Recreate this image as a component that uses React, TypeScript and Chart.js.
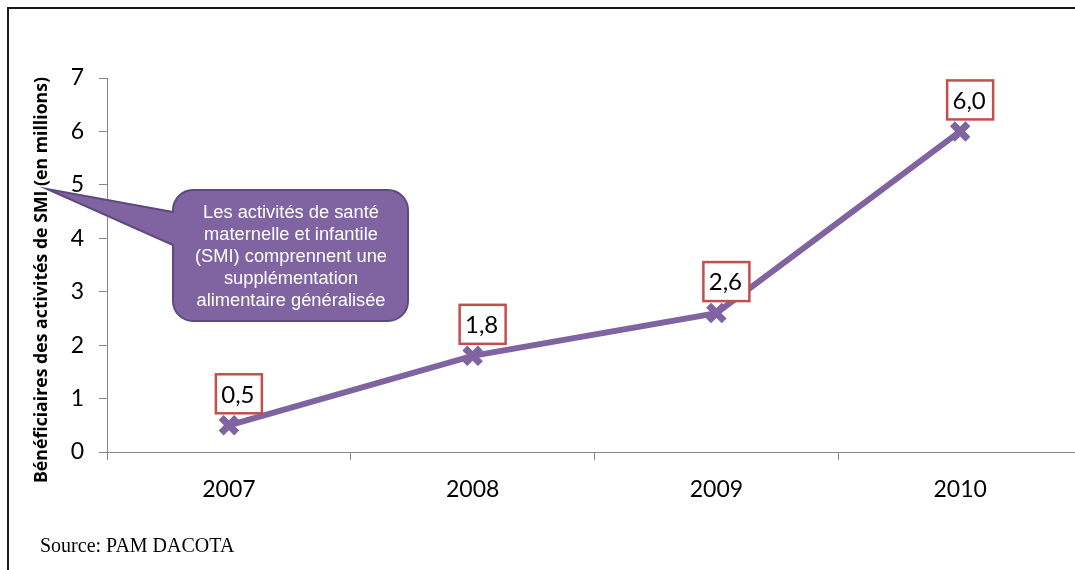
import React, { useEffect, useRef } from "react";
import { Chart, registerables } from "chart.js";

Chart.register(...registerables);

const years = ["2007", "2008", "2009", "2010"];
const beneficiaries = [0.5, 1.8, 2.6, 6.0];
const valueLabels = ["0,5", "1,8", "2,6", "6,0"];
const yTicks = [0, 1, 2, 3, 4, 5, 6, 7];
const yTitle = "Bénéficiaires des activités de SMI (en millions)";
const calloutLines = [
  "Les activités de santé",
  "maternelle et infantile",
  "(SMI) comprennent une",
  "supplémentation",
  "alimentaire généralisée",
];
const sourceText = "Source: PAM DACOTA";

const PURPLE = "#8064A2";
const RED = "#C0504D";
const AXIS = "#868686";

const decorPlugin = {
  id: "decor",
  afterDraw(chart: any) {
    const ctx = chart.ctx as CanvasRenderingContext2D;
    ctx.save();
    // frame
    ctx.fillStyle = "#1a1a1a";
    ctx.fillRect(7, 7, 1200, 2);
    ctx.fillRect(7, 7, 2, 700);

    // y title
    ctx.save();
    ctx.translate(42, 280);
    ctx.rotate(-Math.PI / 2);
    ctx.fillStyle = "#000";
    ctx.font = "bold 17.7px 'Open Sans', Lato, sans-serif";
    ctx.textAlign = "center";
    ctx.textBaseline = "middle";
    ctx.fillText(yTitle, 0, 0);
    ctx.restore();

    // data labels
    const meta = chart.getDatasetMeta(0);
    meta.data.forEach((pt: any, i: number) => {
      const cx = pt.x + 10;
      const bottom = pt.y - 12;
      const w = 46;
      const h = 39;
      ctx.fillStyle = "#fff";
      ctx.fillRect(cx - w / 2, bottom - h, w, h);
      ctx.strokeStyle = RED;
      ctx.lineWidth = 2.5;
      ctx.strokeRect(cx - w / 2, bottom - h, w, h);
      ctx.fillStyle = "#000";
      ctx.font = "24px Lato, 'Open Sans', sans-serif";
      ctx.textAlign = "center";
      ctx.textBaseline = "middle";
      ctx.fillText(valueLabels[i], cx - 1, bottom - h / 2 + 1);
    });

    // callout
    const x0 = 173, y0 = 190, x1 = 408, y1 = 321, r = 20;
    ctx.beginPath();
    ctx.moveTo(x0 + r, y0);
    ctx.lineTo(x1 - r, y0);
    ctx.arcTo(x1, y0, x1, y0 + r, r);
    ctx.lineTo(x1, y1 - r);
    ctx.arcTo(x1, y1, x1 - r, y1, r);
    ctx.lineTo(x0 + r, y1);
    ctx.arcTo(x0, y1, x0, y1 - r, r);
    ctx.lineTo(x0, 245);
    ctx.lineTo(47, 189);
    ctx.lineTo(x0, 212);
    ctx.lineTo(x0, y0 + r);
    ctx.arcTo(x0, y0, x0 + r, y0, r);
    ctx.closePath();
    ctx.fillStyle = PURPLE;
    ctx.fill();
    ctx.strokeStyle = "#5E4A7E";
    ctx.lineWidth = 2;
    ctx.stroke();

    ctx.fillStyle = "#fff";
    ctx.font = "18.3px 'Liberation Sans', Arial, sans-serif";
    ctx.textAlign = "center";
    ctx.textBaseline = "middle";
    calloutLines.forEach((line, i) => {
      ctx.fillText(line, 291, 213 + i * 22);
    });

    // source
    ctx.fillStyle = "#000";
    ctx.font = "20px 'Liberation Serif', 'DejaVu Serif', serif";
    ctx.textAlign = "left";
    ctx.textBaseline = "middle";
    ctx.fillText(sourceText, 40, 547);
    ctx.restore();
  },
};

export default function App() {
  const ref = useRef<HTMLCanvasElement>(null);
  useEffect(() => {
    if (!ref.current) return;
    const chart = new Chart(ref.current, {
      type: "line",
      data: {
        labels: years,
        datasets: [
          {
            data: beneficiaries,
            borderColor: PURPLE,
            backgroundColor: PURPLE,
            borderWidth: 6,
            pointStyle: "crossRot",
            pointRadius: 11,
            pointBorderWidth: 7,
            pointBorderColor: PURPLE,
            tension: 0,
          },
        ],
      },
      options: {
        responsive: false,
        animation: false,
        layout: { padding: { left: 0, right: 17, top: 78, bottom: 0 } },
        plugins: { legend: { display: false }, tooltip: { enabled: false } },
        scales: {
          x: {
            type: "category",
            offset: true,
            grid: { offset: true, drawOnChartArea: false, drawTicks: true, tickLength: 8, color: AXIS },
            border: { color: AXIS },
            ticks: { color: "#000", font: { family: "Lato, 'Open Sans', sans-serif", size: 23 }, padding: 16 },
            afterFit: (s: any) => {
              s.height = 118;
            },
          },
          y: {
            min: 0,
            max: 7,
            afterBuildTicks: (s: any) => {
              s.ticks = yTicks.map((v) => ({ value: v }));
            },
            grid: { drawOnChartArea: false, drawTicks: true, tickLength: 8, color: AXIS },
            border: { color: AXIS },
            ticks: { color: "#000", font: { family: "Lato, 'Open Sans', sans-serif", size: 23 }, padding: 15 },
            afterFit: (s: any) => {
              s.width = 107;
            },
          },
        },
      },
      plugins: [decorPlugin],
    });
    return () => chart.destroy();
  }, []);
  return (
    <div
      style={{
        position: "fixed",
        left: 0,
        top: 0,
        width: 1075,
        height: 570,
        overflow: "hidden",
        background: "#fff",
      }}
    >
      <canvas ref={ref} width={1100} height={570} style={{ display: "block" }} />
    </div>
  );
}
